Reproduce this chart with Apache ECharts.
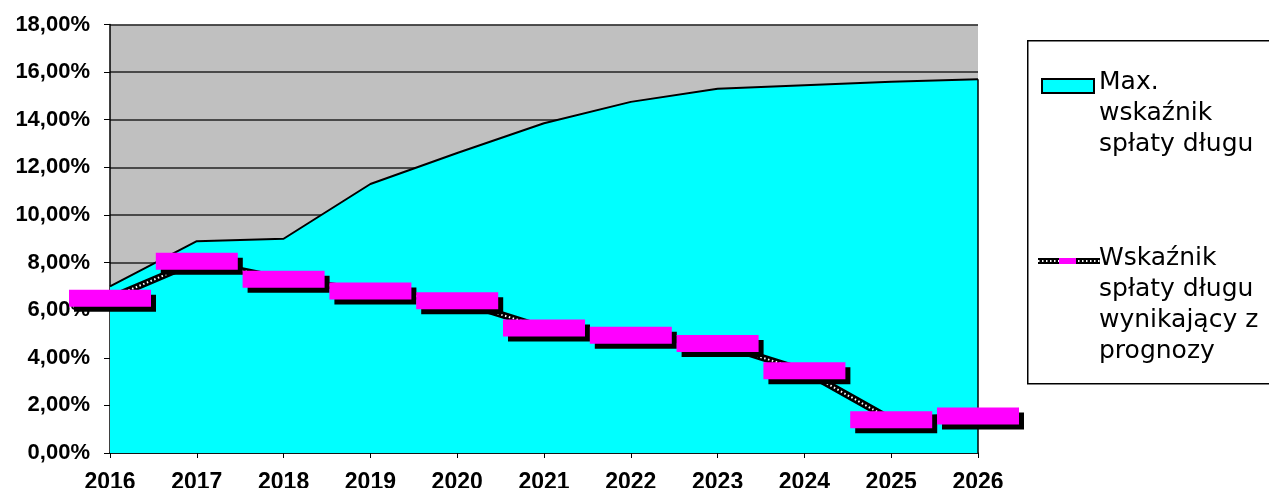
<!DOCTYPE html>
<html>
<head>
<meta charset="utf-8">
<script src="https://cdn.jsdelivr.net/npm/echarts@6/dist/echarts.min.js"></script>
<style>
  html, body { margin: 0; padding: 0; background: #fff; }
  #chart { width: 1269px; height: 488px; }
</style>
</head>
<body>
<div id="chart"></div>
<script>
// years on the x axis
const years = ['2016', '2017', '2018', '2019', '2020', '2021', '2022', '2023', '2024', '2025', '2026'];
// max debt repayment ratio (%)
const maxRatio = [7.0, 8.9, 9.0, 11.3, 12.6, 13.85, 14.75, 15.3, 15.45, 15.6, 15.7];
// forecast debt repayment ratio (%)
const forecastRatio = [6.5, 8.05, 7.3, 6.8, 6.4, 5.25, 4.95, 4.6, 3.45, 1.4, 1.55];

const legendMax = ['Max.', 'wskaźnik', 'spłaty długu'];
const legendForecast = ['Wskaźnik', 'spłaty długu', 'wynikający z', 'prognozy'];

const chart = echarts.init(document.getElementById('chart'));

const fmtPct = v => v.toFixed(2).replace('.', ',') + '%';
const legendFont = { fontFamily: 'DejaVu Sans', fontSize: 25, fill: '#000' };

const textLines = (lines, x, y0) => lines.map((t, i) => ({
    type: 'text',
    left: x,
    top: y0 + i * 31,
    style: Object.assign({ text: t }, legendFont)
}));

const last = years.length - 1;

chart.setOption({
    animation: false,
    backgroundColor: '#fff',
    grid: {
        left: 110, right: 291, top: 24.5, bottom: 35,
        containLabel: false, outerBoundsMode: 'none',
        show: true, backgroundColor: '#c0c0c0', borderWidth: 0
    },
    xAxis: {
        type: 'category',
        data: years,
        boundaryGap: false,
        axisLine: { lineStyle: { color: '#000', width: 1.5 } },
        axisTick: { show: true, length: 5, lineStyle: { color: '#000' } },
        axisLabel: {
            color: '#000', fontFamily: 'Liberation Sans', fontWeight: 'bold',
            fontSize: 23, margin: 18
        },
        splitLine: { show: false }
    },
    yAxis: {
        type: 'value',
        min: 0, max: 18, interval: 2,
        axisLine: { show: true, lineStyle: { color: '#000', width: 1.5 } },
        axisTick: { show: true, length: 6, lineStyle: { color: '#000' } },
        axisLabel: {
            color: '#000', fontFamily: 'Liberation Sans', fontWeight: 'bold',
            fontSize: 22, margin: 20, formatter: fmtPct
        },
        splitLine: { show: true, lineStyle: { color: '#222', width: 1.5 } }
    },
    series: [
        {
            name: 'Max. wskaźnik spłaty długu',
            type: 'line',
            data: maxRatio,
            symbol: 'none',
            lineStyle: { color: '#000', width: 2 },
            areaStyle: { color: '#00ffff', opacity: 1 },
            markLine: {
                silent: true,
                symbol: 'none',
                label: { show: false },
                lineStyle: { color: '#000', width: 1.5, type: 'solid' },
                data: [[{ coord: [years[last], 0] }, { coord: [years[last], maxRatio[last]] }]]
            },
            z: 2,
            silent: true
        },
        {
            // thick black base of the forecast line
            type: 'line',
            data: forecastRatio,
            symbol: 'none',
            lineStyle: { color: '#000', width: 7 },
            z: 3,
            silent: true
        },
        {
            // white dots pattern on top of the base line
            type: 'line',
            data: forecastRatio,
            symbol: 'none',
            lineStyle: { color: '#fff', width: 2, type: [1.5, 2.5] },
            z: 4,
            silent: true
        },
        {
            name: 'Wskaźnik spłaty długu wynikający z prognozy',
            type: 'line',
            data: forecastRatio,
            symbol: 'rect',
            symbolSize: [82, 17],
            showAllSymbol: true,
            clip: false,
            lineStyle: { opacity: 0 },
            itemStyle: {
                color: '#ff00ff', borderWidth: 0,
                shadowColor: '#000', shadowBlur: 0, shadowOffsetX: 5, shadowOffsetY: 5
            },
            emphasis: { disabled: true },
            z: 5,
            silent: true
        }
    ],
    graphic: [
        {
            type: 'rect',
            left: 1027, top: 40,
            shape: { width: 260, height: 343 },
            style: { fill: '#fff', stroke: '#000', lineWidth: 1.5 }
        },
        {
            type: 'rect',
            left: 1041, top: 78,
            shape: { width: 52, height: 14 },
            style: { fill: '#00ffff', stroke: '#000', lineWidth: 2 }
        },
        {
            type: 'line',
            shape: { x1: 1038, y1: 261, x2: 1100, y2: 261 },
            style: { stroke: '#000', lineWidth: 6 }
        },
        {
            type: 'line',
            shape: { x1: 1038, y1: 261, x2: 1100, y2: 261 },
            style: { stroke: '#fff', lineWidth: 2, lineDash: [1.5, 2.5] }
        },
        {
            type: 'rect',
            left: 1059, top: 258,
            shape: { width: 17, height: 6 },
            style: { fill: '#ff00ff' }
        }
    ].concat(textLines(legendMax, 1099, 70), textLines(legendForecast, 1099, 246))
});
</script>
</body>
</html>
